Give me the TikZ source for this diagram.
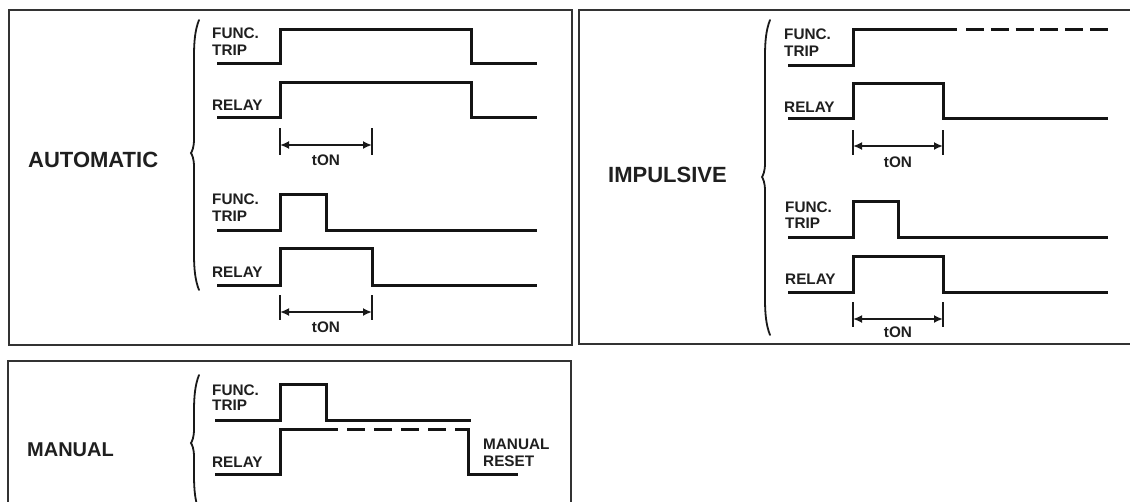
\documentclass[tikz,border=0pt]{standalone}
\usepackage{fontspec}
\setmainfont{Liberation Sans}
\usetikzlibrary{arrows.meta}
\newcommand\curly[5]{% #1 top x, #2 stem x, #3 top y, #4 mid y, #5 bottom y
  \draw[brace] (#1,#3) .. controls ({#2+1},{#3+10}) and (#2,{#3+22}) .. (#2,{#3+36})
    -- (#2,{#4-14}) .. controls (#2,{#4-5}) and ({#2-2},{#4-2}) .. ({#2-3},#4)
    .. controls ({#2-2},{#4+2}) and (#2,{#4+5}) .. (#2,{#4+14})
    -- (#2,{#5-36}) .. controls (#2,{#5-22}) and ({#2+1},{#5-10}) .. (#1,#5);}
\newcommand\tondim[7]{% name, x1, x2, tick top, tick bottom, arrow y, label baseline
  \draw[tickline] (#2,#4) -- (#2,#5);
  \draw[tickline] (#3,#4) -- (#3,#5);
  \coordinate (#1l) at (#2,#6);
  \coordinate (#1r) at (#3,#6);
  \draw[dim] (#1l) -- (#1r);
  \node[ton] (#1t) at ({(#2+#3)/2},#7) {tON};}
\begin{document}
\begin{tikzpicture}[x=1pt,y=-1pt,
  wave/.style={line width=3pt, line join=miter, draw=black!92},
  panel/.style={draw=black!80, line width=1.8pt},
  brace/.style={line width=1.8pt, line cap=round, draw=black!90},
  tickline/.style={line width=1.8pt, draw=black!90},
  dim/.style={line width=1.8pt, draw=black!90, {Latex[length=9pt,width=8pt]}-{Latex[length=9pt,width=8pt]}},
  lbl/.style={font=\fontsize{15.3}{15}\selectfont\bfseries, text=black!88, inner sep=0pt, anchor=base west},
  ttl/.style={font=\fontsize{22}{22}\selectfont\bfseries, text=black!88, inner sep=0pt, anchor=base west},
  ton/.style={font=\fontsize{15.3}{15}\selectfont\bfseries, text=black!88, inner sep=0pt, anchor=base},
]
\useasboundingbox (0,0) rectangle (1130,501);
\clip (0,0) rectangle (1130,501);
\fill[white] (0,0) rectangle (1130,501);

% panels
\draw[panel] (9,10) rectangle (572,345);
\draw[panel] (579,10) rectangle (1140,344);
\draw[panel] (8,520) -- (8,361) -- (571,361) -- (571,520);

% ---------------- AUTOMATIC ----------------
\node[ttl] (autot) at (28,167) {AUTOMATIC};
\curly{199}{194}{20}{153}{290}
\node[lbl] (a1f) at (212,38.5) {FUNC.};
\node[lbl] (a1t) at (212,55) {TRIP};
\node[lbl] (a1r) at (212,110) {RELAY};
\draw[wave] (217,63) -- (280,63) -- (280,29) -- (471,29) -- (471,63) -- (537,63);
\draw[wave] (217,117) -- (280,117) -- (280,82) -- (471,82) -- (471,117) -- (537,117);
\tondim{ad1}{280}{372}{128}{155}{145}{165}
\node[lbl] (a2f) at (212,204) {FUNC.};
\node[lbl] (a2t) at (212,221) {TRIP};
\node[lbl] (a2r) at (212,277) {RELAY};
\draw[wave] (217,230) -- (280,230) -- (280,194) -- (326,194) -- (326,230) -- (537,230);
\draw[wave] (217,285) -- (280,285) -- (280,248) -- (372,248) -- (372,285) -- (537,285);
\tondim{ad2}{280}{372}{295}{320}{312}{332}

% ---------------- IMPULSIVE ----------------
\node[ttl] (impt) at (608,182) {IMPULSIVE};
\curly{770}{765}{20}{177}{335}
\node[lbl] (i1f) at (784,39) {FUNC.};
\node[lbl] (i1t) at (784,56) {TRIP};
\node[lbl] (i1r) at (784,112) {RELAY};
\draw[wave] (788,65) -- (853,65) -- (853,29) -- (957,29);
\draw[wave, dash pattern=on 18pt off 6.8pt] (966,29) -- (1108,29);
\draw[wave] (788,118) -- (853,118) -- (853,83) -- (943,83) -- (943,118) -- (1108,118);
\tondim{id1}{853}{943}{130}{155}{146}{167}
\node[lbl] (i2f) at (785,212) {FUNC.};
\node[lbl] (i2t) at (785,228) {TRIP};
\node[lbl] (i2r) at (785,284) {RELAY};
\draw[wave] (788,237) -- (853,237) -- (853,201) -- (898,201) -- (898,237) -- (1108,237);
\draw[wave] (788,292) -- (853,292) -- (853,256) -- (943,256) -- (943,292) -- (1108,292);
\tondim{id2}{853}{943}{302}{327}{319}{337}

% ---------------- MANUAL ----------------
\node[ttl, font=\fontsize{20}{20}\selectfont\bfseries] (mant) at (27,456) {MANUAL};
\curly{199}{194}{375}{443}{511}
\node[lbl] (mf) at (212,395) {FUNC.};
\node[lbl] (mt) at (212,410) {TRIP};
\node[lbl] (mr) at (212,467) {RELAY};
\draw[wave] (215,420) -- (280,420) -- (280,384) -- (326,384) -- (326,420) -- (471,420);
\draw[wave] (215,474) -- (280,474) -- (280,429) -- (338,429);
\draw[wave, dash pattern=on 18pt off 9pt] (347,429) -- (446,429);
\draw[wave] (455,429) -- (468,429) -- (468,474) -- (518,474);
\node[lbl] (mm) at (483,449) {MANUAL};
\node[lbl] (mrs) at (483,466) {RESET};
\end{tikzpicture}
\end{document}
